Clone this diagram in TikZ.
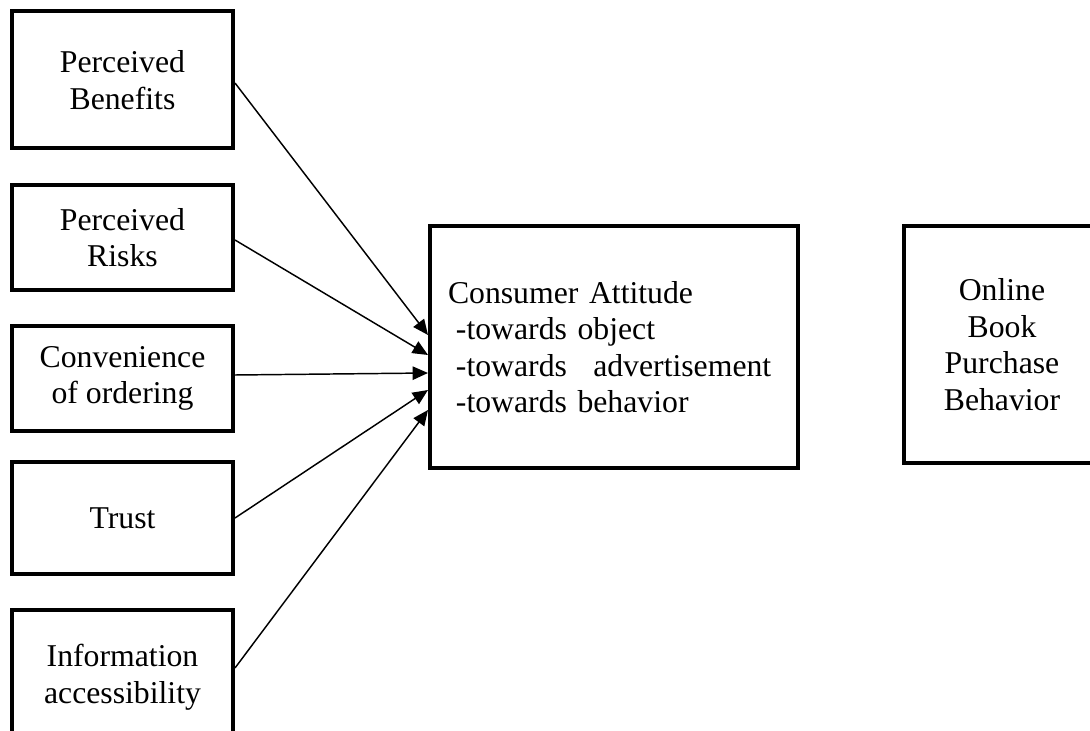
\documentclass[tikz,border=0pt]{standalone}
\usepackage{fontspec}
\setmainfont{Liberation Serif}
\usetikzlibrary{arrows.meta,calc}

\begin{document}
\begin{tikzpicture}[x=0.75pt,y=-0.75pt,
    factor/.style={draw, line width=3pt, minimum width=165.75pt, inner sep=0pt,
      align=center, font=\fontsize{23.8}{27.4}\selectfont},
    link/.style={line width=1.1pt, -{Triangle[length=11.5pt,width=10pt]}}]
  \useasboundingbox (0,0) rectangle (1090,731);
  % factors
  \node (pb) at (122.5,80) [factor, minimum height=102.75pt] {Perceived\\Benefits};
  \node (pr) at (122.5,237.5) [factor, minimum height=78.75pt] {Perceived\\Risks};
  \node (co) at (122.5,378.5) [factor, minimum height=78.75pt] {Convenience\\of ordering};
  \node (tr) at (122.5,518) [factor, minimum height=84pt] {Trust};
  \node (ia) at (122.5,677.5) [factor, minimum height=101.25pt] {Information\\accessibility};
  % attitude and behaviour
  \node (ca) at (614,347) [factor, minimum width=276pt, minimum height=181.5pt,
    text width=249pt, inner xsep=13.5pt, align=left]
    {Consumer Attitude\\
     \hspace*{0.25em}-towards object\\
     \hspace*{0.25em}-towards\hspace{0.83em}advertisement\\
     \hspace*{0.25em}-towards behavior};
  \node (ob) at (1002,344.5) [factor, minimum width=147pt, minimum height=177.75pt]
    {Online\\Book\\Purchase\\Behavior};
  \foreach \source/\sy/\dy in {pb/3/-12, pr/2.5/8, co/-3.5/26, tr/0/43, ia/-9.5/63}
    \draw[link] ($(\source.east)+(0,\sy)$) -- ($(ca.west)+(0,\dy)$);
\end{tikzpicture}
\end{document}
